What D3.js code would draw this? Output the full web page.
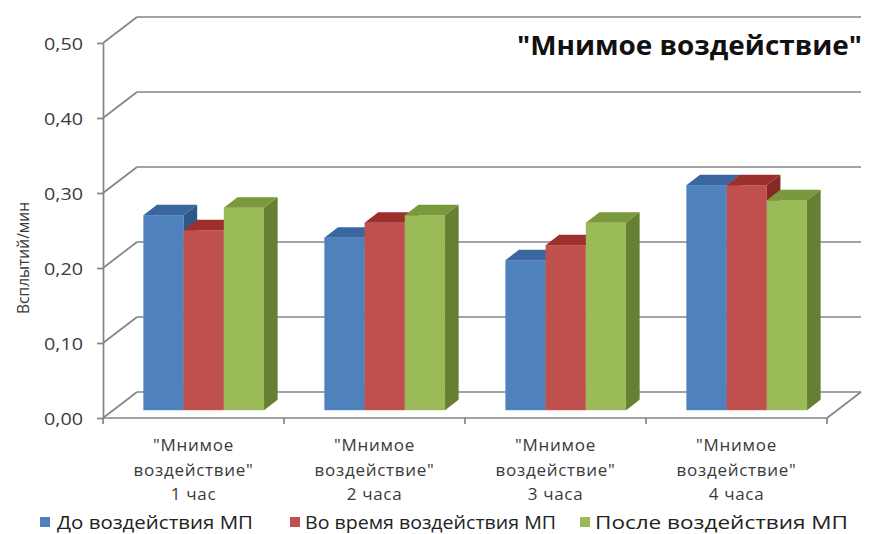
<!DOCTYPE html>
<html>
<head>
<meta charset="utf-8">
<script src="https://cdn.jsdelivr.net/npm/d3@7/dist/d3.min.js"></script>
<style>
  html, body { margin: 0; padding: 0; background: #fff; }
  svg { display: block; font-family: "Open Sans", "Noto Sans", sans-serif; }
</style>
</head>
<body>
<svg id="chart" width="869" height="534"></svg>
<script>
// Sessions of the sham exposure and the three measurement phases
const categories = [
  '"Мнимое воздействие" 1 час',
  '"Мнимое воздействие" 2 часа',
  '"Мнимое воздействие" 3 часа',
  '"Мнимое воздействие" 4 часа'
];
const seriesNames = ['До воздействия МП', 'Во время воздействия МП', 'После воздействия МП'];
const beforeValues = [0.26, 0.23, 0.20, 0.30];
const duringValues = [0.24, 0.25, 0.22, 0.30];
const afterValues  = [0.27, 0.26, 0.25, 0.28];
const yTicks = [0, 0.1, 0.2, 0.3, 0.4, 0.5];
const chartTitle = '"Мнимое воздействие"';
const yTitle = 'Всплытий/мин';

(function () {
  const seriesValues = [beforeValues, duringValues, afterValues];

  // face colours: front, top, side
  const palette = [
    { front: '#4f81bd', top: '#3a67a0', side: '#2d5888' },
    { front: '#c0504d', top: '#9d302d', side: '#872826' },
    { front: '#9bbb59', top: '#7a993d', side: '#677f33' }
  ];

  const svg = d3.select('#chart');

  // front plane of the plot and the depth vector of the 3D box
  const plotLeft = 103, plotRight = 827, plotBottom = 418, plotTop = 43;
  const depth = { x: 34, y: -26 };
  const barDepth = [0.3, 0.7];   // fraction of the box depth occupied by the columns
  const gridColor = '#858585';

  const x = d3.scaleBand().domain(categories).range([plotLeft, plotRight]).paddingInner(0).paddingOuter(0);
  const xSub = d3.scaleBand().domain(seriesNames).range([0, x.bandwidth()])
    .paddingInner(0).paddingOuter(0.75);
  const y = d3.scaleLinear().domain([0, 0.5]).range([plotBottom, plotTop]);

  const ruLocale = d3.formatLocale({ decimal: ',', thousands: ' ', grouping: [3], currency: ['', ' ₽'] });
  const fmt = ruLocale.format('.2f');

  // ---- walls: side wall diagonals and back wall gridlines
  const walls = svg.append('g').attr('fill', 'none').attr('stroke', gridColor).attr('stroke-width', 1.7);
  yTicks.forEach(v => {
    const yy = y(v);
    walls.append('line')
      .attr('x1', plotLeft).attr('y1', yy)
      .attr('x2', plotLeft + depth.x).attr('y2', yy + depth.y);
    walls.append('line')
      .attr('x1', plotLeft + depth.x).attr('y1', yy + depth.y)
      .attr('x2', plotRight + depth.x).attr('y2', yy + depth.y);
  });
  // right edge of the floor
  walls.append('line')
    .attr('x1', plotRight).attr('y1', y(0))
    .attr('x2', plotRight + depth.x).attr('y2', y(0) + depth.y);

  // ---- columns
  const bars = svg.append('g');
  categories.forEach((c, ci) => {
    seriesNames.forEach((s, si) => {
      const v = seriesValues[si][ci];
      const xl = x(c) + xSub(s);
      const xr = xl + xSub.bandwidth();
      const yt = y(v), yb = y(0);
      const d0x = depth.x * barDepth[0], d0y = depth.y * barDepth[0];
      const d1x = depth.x * barDepth[1], d1y = depth.y * barDepth[1];
      const col = palette[si];
      bars.append('rect')
        .attr('x', xl + d0x).attr('y', yt + d0y)
        .attr('width', xr - xl).attr('height', yb - yt)
        .attr('fill', col.front);
      bars.append('polygon')
        .attr('points', [
          [xl + d0x, yt + d0y], [xr + d0x, yt + d0y],
          [xr + d1x, yt + d1y], [xl + d1x, yt + d1y]
        ].map(p => p.join(',')).join(' '))
        .attr('fill', col.top);
      bars.append('polygon')
        .attr('points', [
          [xr + d0x, yt + d0y], [xr + d1x, yt + d1y],
          [xr + d1x, yb + d1y], [xr + d0x, yb + d0y]
        ].map(p => p.join(',')).join(' '))
        .attr('fill', col.side);
    });
  });

  // ---- value axis
  const yAxis = svg.append('g')
    .attr('transform', `translate(${plotLeft},0)`)
    .call(d3.axisLeft(y).tickValues(yTicks).tickFormat(fmt).tickSize(6).tickSizeOuter(0).tickPadding(14));
  yAxis.select('.domain').attr('stroke', gridColor).attr('stroke-width', 1.7);
  yAxis.selectAll('.tick line').attr('stroke', gridColor).attr('stroke-width', 1.7);
  yAxis.selectAll('.tick text')
    .attr('font-family', '"Open Sans", sans-serif')
    .attr('font-size', 17).attr('fill', '#3a3a3a')
    .attr('dy', '0.36em')
    .attr('textLength', 39).attr('lengthAdjust', 'spacingAndGlyphs');

  // ---- category axis
  const xAxisG = svg.append('g').attr('stroke', gridColor).attr('stroke-width', 1.7);
  xAxisG.append('line').attr('x1', plotLeft).attr('y1', plotBottom).attr('x2', plotRight).attr('y2', plotBottom);
  categories.concat([null]).forEach(c => {
    const xx = c === null ? plotRight : x(c);
    xAxisG.append('line').attr('x1', xx).attr('y1', plotBottom).attr('x2', xx).attr('y2', plotBottom + 6);
  });

  const catLabels = svg.append('g')
    .attr('font-size', 17).attr('letter-spacing', 0.7)
    .attr('fill', '#3a3a3a').attr('text-anchor', 'middle');
  categories.forEach(c => {
    const parts = c.split(' ');
    const lines = [parts[0], parts[1], parts.slice(2).join(' ')];
    const cx = x(c) + x.bandwidth() / 2;
    const t = catLabels.append('text');
    lines.forEach((ln, li) => {
      t.append('tspan').attr('x', cx).attr('y', 451 + li * 24.5).text(ln);
    });
  });

  // ---- axis title
  svg.append('text')
    .attr('transform', 'translate(29,258) rotate(-90)')
    .attr('text-anchor', 'middle')
    .attr('font-size', 16.5).attr('fill', '#3a3a3a')
    .attr('textLength', 112).attr('lengthAdjust', 'spacingAndGlyphs')
    .text(yTitle);

  // ---- chart title
  svg.append('text')
    .attr('x', 517).attr('y', 55)
    .attr('font-size', 26).attr('font-weight', 'bold').attr('fill', '#111')
    .attr('textLength', 345).attr('lengthAdjust', 'spacingAndGlyphs')
    .text(chartTitle);

  // ---- legend
  const legendItems = [
    { sq: 40, tx: 57, w: 196 },
    { sq: 290, tx: 305, w: 251 },
    { sq: 580, tx: 595, w: 253 }
  ];
  const legend = svg.append('g');
  seriesNames.forEach((s, i) => {
    const it = legendItems[i];
    legend.append('rect')
      .attr('x', it.sq).attr('y', 517).attr('width', 10).attr('height', 10)
      .attr('fill', palette[i].front);
    legend.append('text')
      .attr('x', it.tx).attr('y', 529)
      .attr('font-size', 18).attr('fill', '#222')
      .attr('textLength', it.w).attr('lengthAdjust', 'spacingAndGlyphs')
      .text(s);
  });
})();
</script>
</body>
</html>
